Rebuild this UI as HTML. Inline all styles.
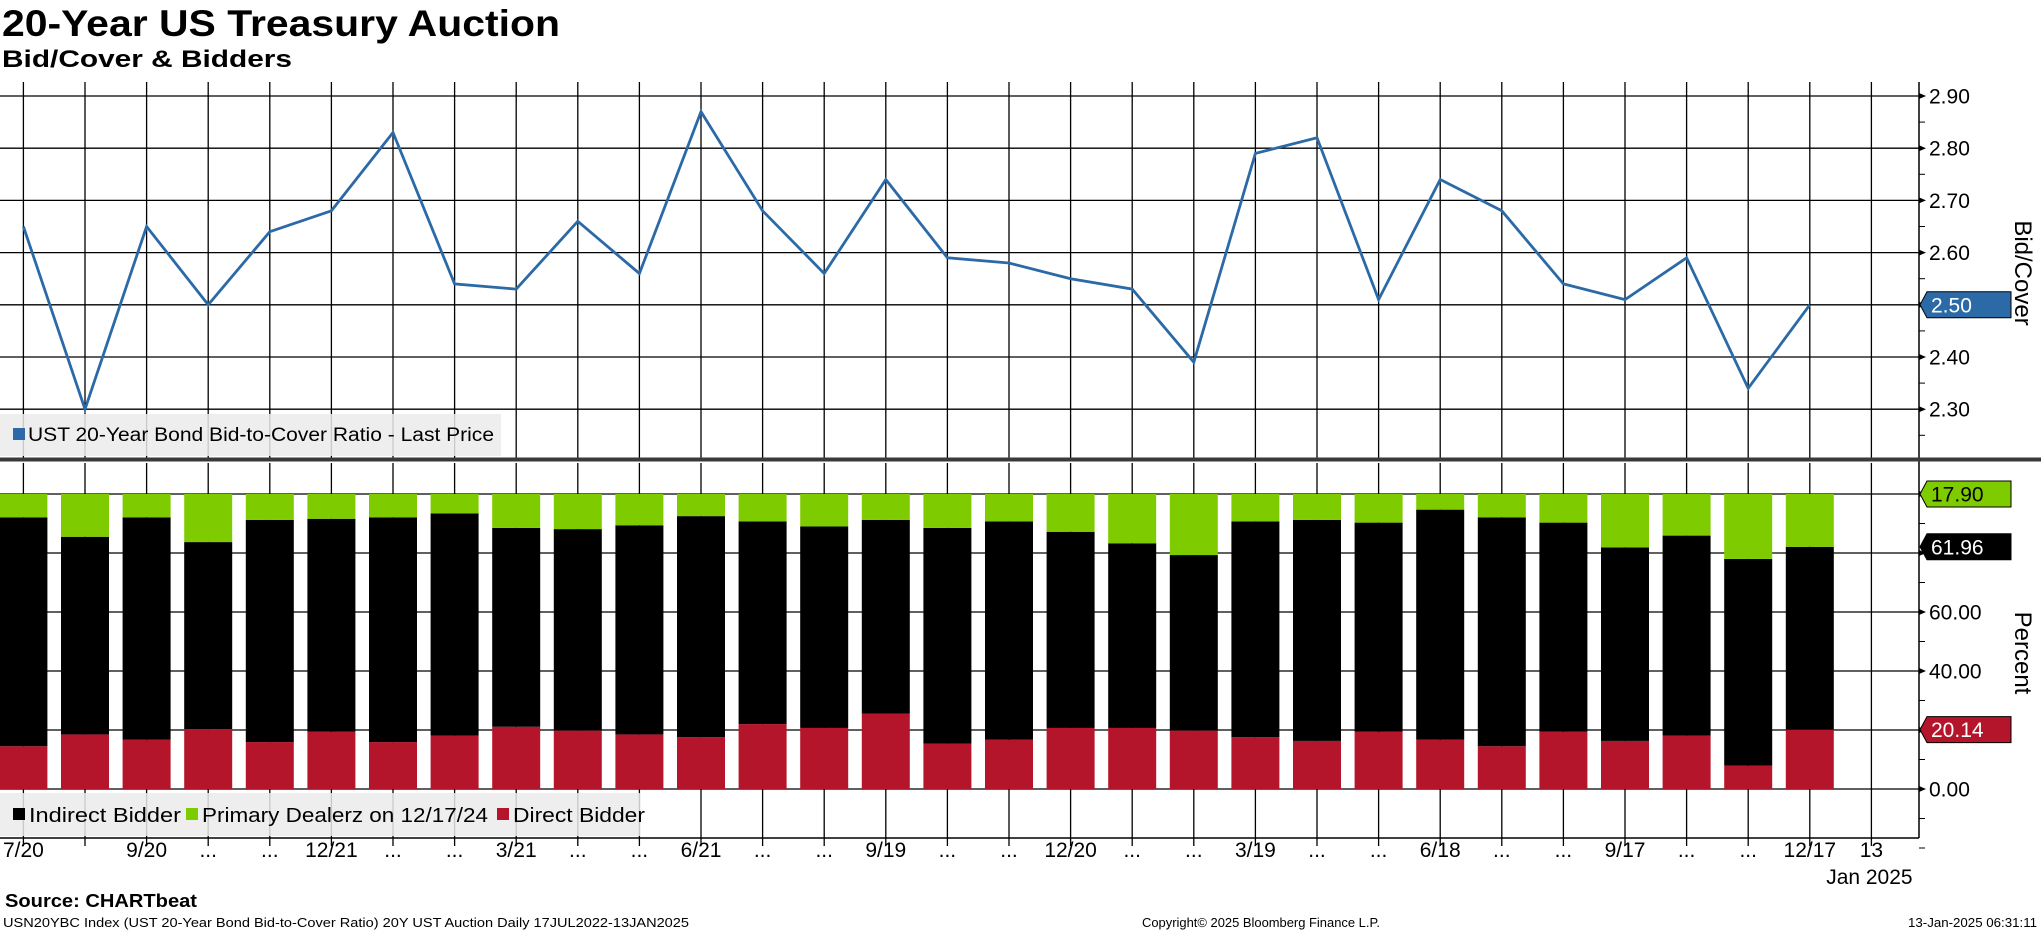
<!DOCTYPE html>
<html><head><meta charset="utf-8"><style>
html,body{margin:0;padding:0;background:#fff;}
svg{display:block;font-family:"Liberation Sans","DejaVu Sans",sans-serif;}
</style></head><body>
<svg id="chart" width="2041" height="932" viewBox="0 0 2041 932" xmlns="http://www.w3.org/2000/svg">
<text x="2" y="36" font-size="37" font-weight="bold" textLength="558" lengthAdjust="spacingAndGlyphs">20-Year US Treasury Auction</text>
<text x="2" y="67" font-size="24" font-weight="bold" textLength="290" lengthAdjust="spacingAndGlyphs">Bid/Cover &amp; Bidders</text>
<g id="grid"></g>
<g id="bars"></g>
<g id="line"></g>
<g id="axes"></g>
<g id="legends"></g>
<text x="5" y="907" font-size="18" font-weight="bold" textLength="192" lengthAdjust="spacingAndGlyphs">Source: CHARTbeat</text>
<text x="3" y="927" font-size="12.5" textLength="686" lengthAdjust="spacingAndGlyphs">USN20YBC Index (UST 20-Year Bond Bid-to-Cover Ratio) 20Y UST Auction  Daily 17JUL2022-13JAN2025</text>
<text x="1142" y="927" font-size="12.5" textLength="238" lengthAdjust="spacingAndGlyphs">Copyright© 2025 Bloomberg Finance L.P.</text>
<text x="1908" y="927" font-size="12.5" textLength="129" lengthAdjust="spacingAndGlyphs">13-Jan-2025 06:31:11</text>
</svg>
<script>
const xLabels = ["7/20","","9/20","...","...","12/21","...","...","3/21","...","...","6/21","...","...","9/19","...","...","12/20","...","...","3/19","...","...","6/18","...","...","9/17","...","...","12/17","13"];
const bidCover = [2.65,2.30,2.65,2.50,2.64,2.68,2.83,2.54,2.53,2.66,2.56,2.87,2.68,2.56,2.74,2.59,2.58,2.55,2.53,2.39,2.79,2.82,2.51,2.74,2.68,2.54,2.51,2.59,2.34,2.50];
const direct = [14.5,18.5,16.7,20.3,15.9,19.4,15.9,18.1,21.1,19.8,18.5,17.6,22.0,20.7,25.6,15.4,16.7,20.7,20.7,19.8,17.6,16.3,19.4,16.7,14.5,19.4,16.3,18.1,7.9,20.14];
const primary = [7.9,14.5,7.9,16.3,8.8,8.4,7.9,6.6,11.5,11.9,10.6,7.5,9.3,11.0,8.8,11.5,9.3,12.8,16.7,20.7,9.3,8.8,9.7,5.3,7.9,9.7,18.1,14.1,22.0,17.90];
const indirect = [77.6,67.0,75.4,63.4,75.3,72.2,76.2,75.3,67.4,68.3,70.9,74.9,68.7,68.3,65.6,73.1,74.0,66.5,62.6,59.5,73.1,74.9,70.9,78.0,77.6,70.9,65.6,67.8,70.1,61.96];
const topTicks = [2.30,2.40,2.50,2.60,2.70,2.80,2.90];
const botTicks = [0,20,40,60,80,100];
const botTickLabels = ["0.00","","40.00","60.00","",""];

const NS="http://www.w3.org/2000/svg";
function mk(tag, attrs, parent, text){const e=document.createElementNS(NS,tag);for(const k in attrs)e.setAttribute(k,attrs[k]);if(text!==undefined)e.textContent=text;parent.appendChild(e);return e;}
const X0=23.4, DX=61.6, AX=1919;
const xS=i=>X0+DX*i;
const yTop=v=>96+(2.90-v)*522;
const yBot=v=>789-v*2.95;
const grid=document.getElementById('grid'), bars=document.getElementById('bars'), line=document.getElementById('line'), axes=document.getElementById('axes'), leg=document.getElementById('legends');

// vertical grid lines
for(let i=0;i<xLabels.length;i++){
  const x=xS(i);
  const g1=mk('line',{x1:x,x2:x,y1:82,y2:458,stroke:'#000','stroke-width':1.3},grid);
  
  
  const g2=mk('line',{x1:x,x2:x,y1:463,y2:846,stroke:'#000','stroke-width':1.3},grid);
  
  
  const t=mk('text',{x:x,y:857,'font-size':21,'text-anchor':'middle'},axes,xLabels[i]);
  
  
}
const jt=mk('text',{x:xS(30)-2,y:884,'font-size':21,'text-anchor':'middle'},axes,'Jan 2025');



// horizontal grids top
topTicks.forEach(v=>{
  const y=yTop(v);
  const l=mk('line',{x1:0,x2:AX,y1:y,y2:y,stroke:'#000','stroke-width':1.3},grid);
  
  
  if(Math.abs(v-2.5)>0.001){
    const t=mk('text',{x:1929,y:y+7.5,'font-size':21},axes,v.toFixed(2));
    
    
  }
  mk('path',{d:`M${AX} ${y-3}L${AX+7} ${y}L${AX} ${y+3}Z`,fill:'#000'},axes);
  const ym=yTop(v-0.05);
  mk('line',{x1:AX,x2:AX+6,y1:ym,y2:ym,stroke:'#000','stroke-width':1},axes);
});
botTicks.forEach((v,i)=>{
  const y=yBot(v);
  const l=mk('line',{x1:0,x2:AX,y1:y,y2:y,stroke:'#000','stroke-width':1.3},grid);
  
  
  if(botTickLabels[i]){
    const t=mk('text',{x:1929,y:y+7.5,'font-size':21},axes,botTickLabels[i]);
    
    
  }
  mk('path',{d:`M${AX} ${y-3}L${AX+7} ${y}L${AX} ${y+3}Z`,fill:'#000'},axes);
  const ym=yBot(v-10);
  mk('line',{x1:AX,x2:AX+6,y1:ym,y2:ym,stroke:'#000','stroke-width':1},axes);
});
const ymb=yBot(-20);
mk('line',{x1:AX,x2:AX+6,y1:ymb,y2:ymb,stroke:'#000','stroke-width':1},axes);

// bars
const BW=48;
for(let i=0;i<direct.length;i++){
  const x=xS(i)-BW/2;
  const r=mk('rect',{x:x,y:yBot(direct[i]),width:BW,height:yBot(0)-yBot(direct[i]),fill:'#b5152b'},bars);
  
  
  const b=mk('rect',{x:x,y:yBot(direct[i]+indirect[i]),width:BW,height:yBot(direct[i])-yBot(direct[i]+indirect[i]),fill:'#000'},bars);
  
  
  const tot=direct[i]+indirect[i];
  const g=mk('rect',{x:x,y:yBot(tot+primary[i]),width:BW,height:yBot(tot)-yBot(tot+primary[i]),fill:'#7ecc00'},bars);
  
  
}

// line
const pts=bidCover.map((v,i)=>xS(i).toFixed(1)+','+yTop(v).toFixed(1)).join(' ');
const pl=mk('polyline',{points:pts,fill:'none',stroke:'#2b6aa6','stroke-width':2.8,'stroke-linejoin':'miter'},line);



// axes lines
const ra=mk('line',{x1:AX,x2:AX,y1:82,y2:838,stroke:'#000','stroke-width':1.5},axes);


const bl=mk('line',{x1:0,x2:AX,y1:838,y2:838,stroke:'#000','stroke-width':1.5},axes);


const dv=mk('rect',{x:0,y:457.5,width:2041,height:4,fill:'#3a3a3a'},axes);



// value tags
function tag(y,fill,txt,tc,name){
  const g=mk('g',{},axes);
  
  
  mk('path',{d:`M${AX+1} ${y}L${AX+8} ${y-13}L2011 ${y-13}L2011 ${y+13}L${AX+8} ${y+13}Z`,fill:fill,stroke:'#000','stroke-width':1},g);
  mk('text',{x:1931,y:y+7.5,'font-size':21,fill:tc},g,txt);
}
tag(yTop(bidCover[bidCover.length-1]),'#2b6aa6',bidCover[bidCover.length-1].toFixed(2),'#fff','last-bid-cover-tag');
const L=direct.length-1;
tag(yBot(100),'#7ecc00',primary[L].toFixed(2),'#000','last-primary-tag');
tag(yBot(100-primary[L]),'#000',indirect[L].toFixed(2),'#fff','last-indirect-tag');
tag(yBot(direct[L]),'#b5152b',direct[L].toFixed(2),'#fff','last-direct-tag');

// axis titles
const t1=mk('text',{x:0,y:0,'font-size':24,'text-anchor':'middle',transform:'translate(2015,273) rotate(90)'},axes,'Bid/Cover');


const t2=mk('text',{x:0,y:0,'font-size':24,'text-anchor':'middle',transform:'translate(2015,653) rotate(90)'},axes,'Percent');



// legends
const lg1=mk('g',{},leg);


mk('rect',{x:0,y:414,width:501,height:42,fill:'rgba(235,235,235,0.85)'},lg1);
mk('rect',{x:13,y:428,width:12,height:12,fill:'#2b6aa6'},lg1);
mk('text',{x:28,y:441,'font-size':19,textLength:466,lengthAdjust:'spacingAndGlyphs'},lg1,'UST 20-Year Bond Bid-to-Cover Ratio - Last Price');

const lg2=mk('g',{},leg);


mk('rect',{x:0,y:793,width:640,height:43,fill:'rgba(235,235,235,0.85)'},lg2);
const items=[['#000','Indirect Bidder',13,152],['#7ecc00','Primary Dealerz on 12/17/24',186,286],['#b5152b','Direct Bidder',497,132]];
items.forEach(it=>{
  mk('rect',{x:it[2],y:808,width:12,height:12,fill:it[0]},lg2);
  const t=mk('text',{x:it[2]+16,y:822,'font-size':20,textLength:it[3],lengthAdjust:'spacingAndGlyphs'},lg2,it[1]);
  
  
});
</script>
</body></html>
